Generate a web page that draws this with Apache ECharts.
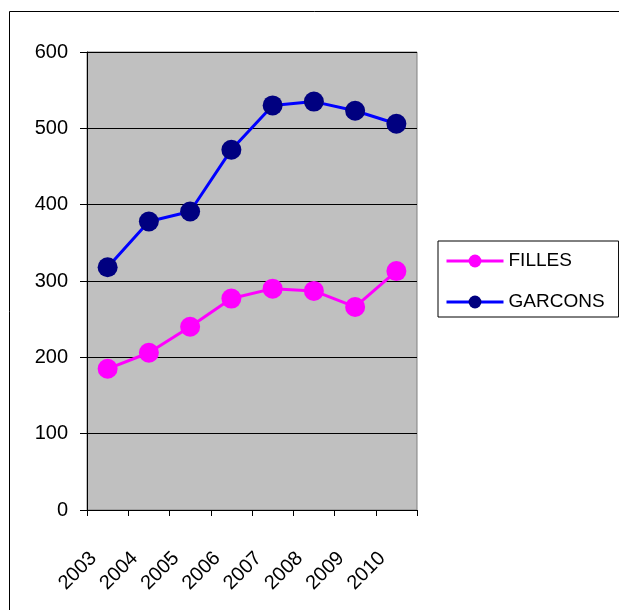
<!DOCTYPE html>
<html>
<head>
<meta charset="utf-8">
<script src="https://cdn.jsdelivr.net/npm/echarts@6/dist/echarts.min.js"></script>
<style>
  html, body { margin: 0; padding: 0; background: #fff; }
  #chart { width: 619px; height: 610px; }
</style>
</head>
<body>
<div id="chart"></div>
<script>
const chart = echarts.init(document.getElementById('chart'));

// data
const years = ['2003', '2004', '2005', '2006', '2007', '2008', '2009', '2010'];
const filles = [185, 206, 240, 277, 290, 287, 266, 313];
const garcons = [318, 378, 391, 472, 530, 535, 523, 506];
const yTicks = { min: 0, max: 600, interval: 100 };

const font = 'Liberation Sans';

chart.setOption({
    animation: false,
    textStyle: { fontFamily: font },
    graphic: [{
        type: 'rect',
        shape: { x: 9.5, y: 11.5, width: 700, height: 700 },
        style: { fill: 'none', stroke: '#000', lineWidth: 1 },
        silent: true
    }],
    grid: {
        left: 87,
        top: 52,
        width: 330,
        height: 458,
        show: true,
        backgroundColor: '#c0c0c0',
        borderColor: '#808080',
        borderWidth: 1
    },
    legend: {
        orient: 'vertical',
        left: 438,
        top: 241,
        padding: [10, 14, 5, 7],
        itemGap: 21,
        itemWidth: 57,
        itemHeight: 16,
        borderColor: '#000',
        borderWidth: 1,
        lineStyle: { width: 3 },
        textStyle: { fontSize: 19, color: '#000', lineHeight: 20, fontFamily: font },
        data: ['FILLES', 'GARCONS']
    },
    xAxis: {
        type: 'category',
        data: years,
        boundaryGap: true,
        axisLine: { lineStyle: { color: '#000', width: 1 } },
        axisTick: { show: true, length: 6, lineStyle: { color: '#000' } },
        axisLabel: { rotate: 45, fontSize: 20, color: '#000', margin: 31, interval: 0, padding: [0, 20, 0, 0] },
        splitLine: { show: false }
    },
    yAxis: {
        type: 'value',
        min: yTicks.min,
        max: yTicks.max,
        interval: yTicks.interval,
        axisLine: { show: true, lineStyle: { color: '#000', width: 1 } },
        axisTick: { show: true, length: 7, lineStyle: { color: '#000' } },
        axisLabel: { fontSize: 20, color: '#000', margin: 19 },
        splitLine: { show: true, lineStyle: { color: '#000', width: 1 } }
    },
    series: [{
        name: 'FILLES',
        type: 'line',
        data: filles,
        symbol: 'circle',
        symbolSize: 20,
        lineStyle: { color: '#ff00ff', width: 3 },
        itemStyle: { color: '#ff00ff' }
    }, {
        name: 'GARCONS',
        type: 'line',
        data: garcons,
        symbol: 'circle',
        symbolSize: 20,
        lineStyle: { color: '#0000ff', width: 3 },
        itemStyle: { color: '#000080' }
    }]
});
</script>
</body>
</html>
